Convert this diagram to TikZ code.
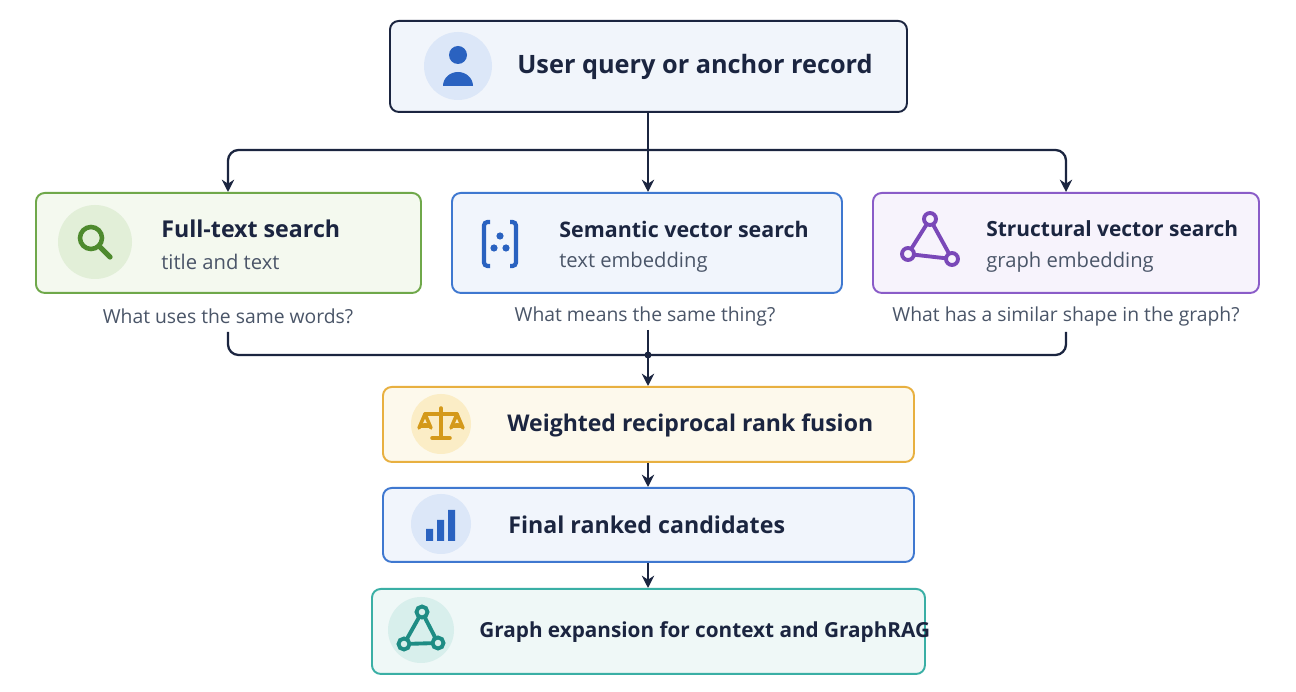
\documentclass[tikz,border=0pt]{standalone}
\usepackage{fontspec}
\setmainfont{Open Sans}
\usetikzlibrary{arrows.meta}
\definecolor{navy}{HTML}{1B2540}
\definecolor{gB}{HTML}{6FA84A}\definecolor{gF}{HTML}{F4F9EF}\definecolor{gI}{HTML}{E2EFD8}\definecolor{gD}{HTML}{4E8A2E}
\definecolor{bB}{HTML}{3F78D0}\definecolor{bF}{HTML}{F1F5FC}\definecolor{bI}{HTML}{DCE7F8}\definecolor{bD}{HTML}{2A62C0}
\definecolor{pB}{HTML}{8A5CC8}\definecolor{pF}{HTML}{F7F3FC}\definecolor{pD}{HTML}{7A48B8}
\definecolor{oB}{HTML}{E8B040}\definecolor{oF}{HTML}{FDF9EC}\definecolor{oI}{HTML}{FBEDC6}\definecolor{oD}{HTML}{D4991A}
\definecolor{tB}{HTML}{3AAFA5}\definecolor{tF}{HTML}{EFF8F7}\definecolor{tI}{HTML}{D8EFEC}\definecolor{tD}{HTML}{1E8C84}
\definecolor{topF}{HTML}{F1F5FB}\definecolor{sub}{HTML}{4A5568}
\begin{document}
\begin{tikzpicture}[x=0.02cm,y=-0.02cm,
 box/.style={draw=#1,line width=1.1pt,rounded corners=5pt,anchor=north west,inner sep=0},
 ttl/.style={font=\bfseries\fontsize{#1}{16}\selectfont,text=navy,anchor=west},
 subt/.style={font=\fontsize{11.5}{14}\selectfont,text=sub,anchor=west},
 captxt/.style={font=\fontsize{11}{13}\selectfont,text=sub},
 conn/.style={draw=navy,line width=1.3pt,rounded corners=6pt},
 arr/.style={conn,-{Stealth[length=7pt,width=7pt]}}]
\useasboundingbox (0,0) rectangle (1296,692);
\fill[white] (0,0) rectangle (1296,692);
% boxes
\node[box=navy,fill=topF,minimum width=517*0.02cm,minimum height=91*0.02cm] (top) at (389,20) {};
\node[box=gB,fill=gF,minimum width=385*0.02cm,minimum height=100*0.02cm] (ft) at (35,192) {};
\node[box=bB,fill=bF,minimum width=390*0.02cm,minimum height=100*0.02cm] (sv) at (451,192) {};
\node[box=pB,fill=pF,minimum width=386*0.02cm,minimum height=100*0.02cm] (st) at (872,192) {};
\node[box=oB,fill=oF,minimum width=531*0.02cm,minimum height=75*0.02cm] (wr) at (382,386) {};
\node[box=bB,fill=bF,minimum width=531*0.02cm,minimum height=74*0.02cm] (fr) at (382,487) {};
\node[box=tB,fill=tF,minimum width=553*0.02cm,minimum height=85*0.02cm] (ge) at (371,588) {};
% texts
\node[ttl=14.4,inner sep=0] (tt) at (517,67) {User query or anchor record};
\node[ttl=13.2,inner sep=0] (t1) at (161,229) {Full-text search};
\node[subt,inner sep=0] (s1) at (161,262) {title and text};
\node[ttl=12.2,inner sep=0] (t2) at (559,229) {Semantic vector search};
\node[subt,inner sep=0] (s2) at (559,262) {text embedding};
\node[ttl=11.9,inner sep=0] (t3) at (986,229) {Structural vector search};
\node[subt,inner sep=0] (s3) at (986,262) {graph embedding};
\node[captxt] (c1) at (228,316) {What uses the same words?};
\node[captxt] (c2) at (645,316) {What means the same thing?};
\node[captxt] (c3) at (1066,316) {What has a similar shape in the graph?};
\node[ttl=13.1,inner sep=0] (t4) at (507,425) {Weighted reciprocal rank fusion};
\node[ttl=13.2,inner sep=0] (t5) at (508,525) {Final ranked candidates};
\node[ttl=11.8,inner sep=0] (t6) at (479,632) {Graph expansion for context and GraphRAG};
% icons
\fill[bI] (458,66) circle (34);
\fill[bD] (458,55) circle (9);
\fill[bD] (443,86) arc (180:360:15 and 14) -- cycle;
\fill[gI] (95,242) circle (37);
\draw[gD,line width=2.6pt] (91,238) circle (11);
\draw[gD,line width=3pt,line cap=round] (99,246) -- (110,257);
\draw[bD,line width=2.4pt,rounded corners=2pt] (490,222) -- (484,222) -- (484,266) -- (490,266);
\draw[bD,line width=2.4pt,rounded corners=2pt] (510,222) -- (516,222) -- (516,266) -- (510,266);
\fill[bD] (500,236) circle (3.6) (494,248) circle (3.6) (506,248) circle (3.6);
\begin{scope}[pD,line width=2.2pt]
\draw (930,219) -- (908,254) -- (952,259) -- cycle;
\fill[pF] (930,219) circle (6) (908,254) circle (6) (952,259) circle (6);
\draw (930,219) circle (6) (908,254) circle (6) (952,259) circle (6);
\end{scope}
\fill[oI] (441,424) circle (30);
\begin{scope}[oD,line width=2pt,line cap=round]
\draw (441,408) -- (441,437) (432,438) -- (450,438) (425,414) -- (457,414);
\draw (425,414) -- (419,428) (425,414) -- (431,428) (457,414) -- (451,428) (457,414) -- (463,428);
\fill (419,428) arc (180:360:6 and 5) -- cycle;
\fill (451,428) arc (180:360:6 and 5) -- cycle;
\end{scope}
\fill[bI] (441,524) circle (30);
\fill[bD] (426,529) rectangle (433,541) (437,520) rectangle (444,541) (448,510) rectangle (455,541);
\fill[tI] (421,630) circle (33);
\begin{scope}[tD,line width=2.2pt]
\draw (422,612) -- (404,644) -- (438,643) -- cycle;
\fill[tI] (422,612) circle (5.5) (404,644) circle (5.5) (438,643) circle (5.5);
\draw (422,612) circle (5.5) (404,644) circle (5.5) (438,643) circle (5.5);
\end{scope}
% connectors
\coordinate (sp) at (648,150);
\draw[arr] (top.south -| sp) -- (sv.north -| sp);
\draw[arr] (sp) -- (228,150) -- (ft.north -| 228,0);
\draw[arr] (sp) -- (1066,150) -- (st.north -| 1066,0);
\coordinate (mg) at (648,355);
\draw[conn] (228,332) -- (228,355) -- (1066,355) -- (1066,332);
\draw[conn] (648,330) -- (mg);
\fill[navy] (mg) circle (3.5);
\draw[arr] (mg) -- (wr.north -| mg);
\draw[arr] (wr.south -| mg) -- (fr.north -| mg);
\draw[arr] (fr.south -| mg) -- (ge.north -| mg);
\end{tikzpicture}
\end{document}
